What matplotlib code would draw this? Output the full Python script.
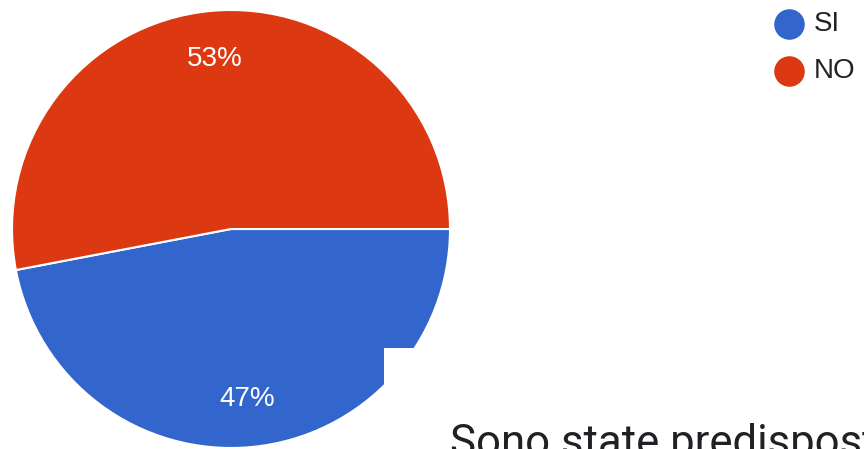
import matplotlib.pyplot as plt

labels = ["SI", "NO"]
values = [47, 53]
colors = ["#3366CC", "#DC3912"]

W, H = 864, 449
plt.rcParams['font.family'] = ['Liberation Sans', 'DejaVu Sans']

fig = plt.figure(figsize=(W / 100, H / 100), dpi=100)

# pie: center (231, 229) px, radius 219 px
cx, cy, r = 231, 229, 219
ax = fig.add_axes([(cx - r) / W, (H - cy - r) / H, 2 * r / W, 2 * r / H])
ax.pie(values, colors=colors, startangle=0, counterclock=False,
       autopct='%1.0f%%', pctdistance=0.78,
       wedgeprops=dict(edgecolor='white', linewidth=1.5),
       textprops=dict(color='white', fontsize=20))
ax.set_xlim(-1, 1)
ax.set_ylim(-1, 1)
ax.set_aspect('equal')
ax.axis('off')

# legend
for i, (lab, col) in enumerate(zip(labels, colors)):
    y = 24 + i * 47
    fig.add_artist(plt.Line2D([789 / W], [1 - y / H], marker='o', markersize=21,
                              color=col, linestyle='none', transform=fig.transFigure))
    fig.text(814 / W, 1 - y / H, lab, fontsize=20, color='#222222', va='center', ha='left')

# screenshot leftovers: white patch and cut-off heading
fig.patches.append(plt.Rectangle((384 / W, 0), 80 / W, 101 / H, facecolor='white',
                                 edgecolor='none', transform=fig.transFigure, zorder=5))
fig.text(450 / W, 1 - 423 / H, "Sono state predisposte", fontsize=31.5, color='#202124',
         family=['Roboto', 'DejaVu Sans'], va='top', ha='left', zorder=6)

fig.savefig("out.png", dpi=100)
